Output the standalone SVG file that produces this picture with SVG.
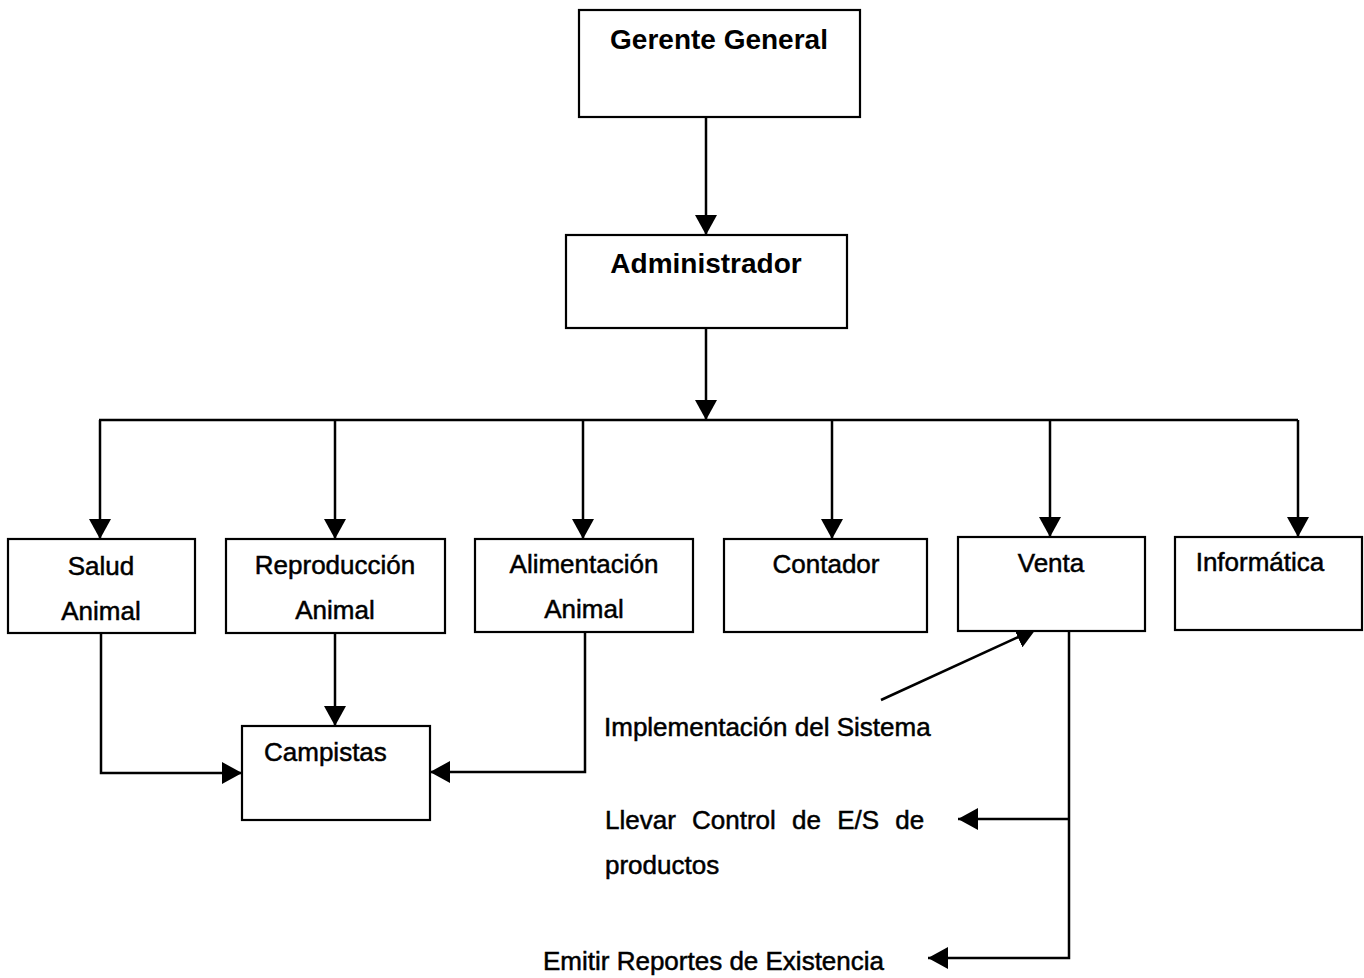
<svg xmlns="http://www.w3.org/2000/svg" width="1364" height="978" viewBox="0 0 1364 978">
<style>
.box{fill:#fff;stroke:#000;stroke-width:2.2}
.ln{fill:none;stroke:#000;stroke-width:2.5}
.t{font-family:"Liberation Sans",Arial,sans-serif;font-size:26px;fill:#000;stroke:#000;stroke-width:0.5}
.b{font-family:"Liberation Sans",Arial,sans-serif;font-size:28px;font-weight:bold;fill:#000}
.m{text-anchor:middle}
</style>
<defs>
<marker id="ah" viewBox="0 0 20 22" refX="20" refY="11" markerWidth="20" markerHeight="22" markerUnits="userSpaceOnUse" orient="auto">
<path d="M0,0 L20,11 L0,22 Z" fill="#000"/>
</marker>
</defs>
<rect width="1364" height="978" fill="#fff"/>
<g id="connectors">
<path class="ln" d="M706,117 V235" marker-end="url(#ah)"/>
<path class="ln" d="M706,328 V420" marker-end="url(#ah)"/>
<path class="ln" d="M99,420 H1298"/>
<path class="ln" d="M100,420 V539" marker-end="url(#ah)"/>
<path class="ln" d="M335,420 V539" marker-end="url(#ah)"/>
<path class="ln" d="M583,420 V539" marker-end="url(#ah)"/>
<path class="ln" d="M832,420 V539" marker-end="url(#ah)"/>
<path class="ln" d="M1050,420 V537" marker-end="url(#ah)"/>
<path class="ln" d="M1298,420 V537" marker-end="url(#ah)"/>
<path class="ln" d="M101,633 V773 H242" marker-end="url(#ah)"/>
<path class="ln" d="M335,633 V726" marker-end="url(#ah)"/>
<path class="ln" d="M585,632 V772 H430" marker-end="url(#ah)"/>
<path class="ln" d="M881,700 L1036,629" marker-end="url(#ah)"/>
<path class="ln" d="M1069,631 V958 H928" marker-end="url(#ah)"/>
<path class="ln" d="M1069,819 H958" marker-end="url(#ah)"/>
</g>
<g id="gerente"><rect class="box" x="579" y="10" width="281" height="107"/><text class="b m" x="719" y="49">Gerente General</text></g>
<g id="administrador"><rect class="box" x="566" y="235" width="281" height="93"/><text class="b m" x="706" y="273">Administrador</text></g>
<g id="salud"><rect class="box" x="8" y="539" width="187" height="94"/><text class="t m" x="101" y="575">Salud</text><text class="t m" x="101" y="620">Animal</text></g>
<g id="reproduccion"><rect class="box" x="226" y="539" width="219" height="94"/><text class="t m" x="335" y="574">Reproducción</text><text class="t m" x="335" y="619">Animal</text></g>
<g id="alimentacion"><rect class="box" x="475" y="539" width="218" height="93"/><text class="t m" x="584" y="573">Alimentación</text><text class="t m" x="584" y="618">Animal</text></g>
<g id="contador"><rect class="box" x="724" y="539" width="203" height="93"/><text class="t m" x="826" y="573">Contador</text></g>
<g id="venta"><rect class="box" x="958" y="537" width="187" height="94"/><text class="t m" x="1051" y="572">Venta</text></g>
<g id="informatica"><rect class="box" x="1175" y="537" width="187" height="93"/><text class="t m" x="1260" y="571">Informática</text></g>
<g id="campistas"><rect class="box" x="242" y="726" width="188" height="94"/><text class="t" x="264" y="761">Campistas</text></g>
<g id="labels">
<text class="t" x="604" y="736">Implementación del Sistema</text>
<text class="t" x="605" y="829" word-spacing="9">Llevar Control de E/S de</text>
<text class="t" x="605" y="874">productos</text>
<text class="t" x="543" y="970">Emitir Reportes de Existencia</text>
</g>
</svg>
